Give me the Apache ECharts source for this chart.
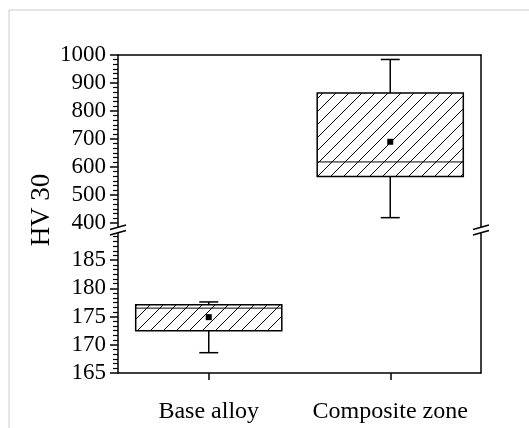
<!DOCTYPE html>
<html><head><meta charset="utf-8">
<script src="https://cdn.jsdelivr.net/npm/echarts@6/dist/echarts.min.js"></script>
<style>html,body{margin:0;padding:0;background:#fff}#c{width:529px;height:428px}</style>
</head><body><div id="c"></div>
<script>
// ---- data ----
const categories = ['Base alloy', 'Composite zone'];
const whiskerLow  = [168.6, 419];
const q1          = [172.5, 566];
const median      = [176.5, 618];
const q3          = [177.1, 864];
const whiskerHigh = [177.6, 984];
const mean        = [174.9, 690];
const upperTicks = [400, 500, 600, 700, 800, 900, 1000];
const lowerTicks = [165, 170, 175, 180, 185];
const upperRange = [382, 1000];
const lowerRange = [165, 190];

const rows = categories.map((c, i) => [i, whiskerLow[i], q1[i], median[i], q3[i], whiskerHigh[i], mean[i]]);

function minorValues(ticks, max, n) {
  const out = [];
  const step = (ticks[1] - ticks[0]) / n;
  for (let v = ticks[0]; v <= max + 1e-9; v += step) {
    const r = Math.round(v * 1000) / 1000;
    if (ticks.indexOf(r) < 0) out.push(r);
  }
  return out;
}
const upperMinor = minorValues(upperTicks, upperRange[1], 6);
const lowerMinor = minorValues(lowerTicks, lowerRange[1], 6);

// hatch pattern
const hatch = document.createElement('canvas');
const S = 13;
hatch.width = S; hatch.height = S;
(function () {
  const ctx = hatch.getContext('2d');
  ctx.strokeStyle = '#000';
  ctx.lineWidth = 1;
  ctx.beginPath();
  ctx.moveTo(0, S); ctx.lineTo(S, 0);
  ctx.moveTo(-2, 2); ctx.lineTo(2, -2);
  ctx.moveTo(S - 2, S + 2); ctx.lineTo(S + 2, S - 2);
  ctx.stroke();
})();

function renderBox(params, api) {
  const i = api.value(0);
  const wl = api.coord([i, api.value(1)]);
  const b1 = api.coord([i, api.value(2)]);
  const md = api.coord([i, api.value(3)]);
  const b3 = api.coord([i, api.value(4)]);
  const wh = api.coord([i, api.value(5)]);
  const mn = api.coord([i, api.value(6)]);
  const bw = api.size([1, 0])[0] * 0.805;
  const x = wl[0];
  const cap = 19;
  const ls = { stroke: '#000', lineWidth: 1.5 };
  return { type: 'group', children: [
    { type: 'line', shape: { x1: x, y1: b3[1], x2: x, y2: wh[1] }, style: ls },
    { type: 'line', shape: { x1: x - cap / 2, y1: wh[1], x2: x + cap / 2, y2: wh[1] }, style: ls },
    { type: 'line', shape: { x1: x, y1: b1[1], x2: x, y2: wl[1] }, style: ls },
    { type: 'line', shape: { x1: x - cap / 2, y1: wl[1], x2: x + cap / 2, y2: wl[1] }, style: ls },
    { type: 'rect', shape: { x: x - bw / 2, y: b3[1], width: bw, height: b1[1] - b3[1] },
      style: { fill: { image: hatch, repeat: 'repeat' }, stroke: '#000', lineWidth: 1.5 } },
    { type: 'line', shape: { x1: x - bw / 2, y1: md[1], x2: x + bw / 2, y2: md[1] }, style: { stroke: '#000', lineWidth: 1 } },
    { type: 'rect', shape: { x: mn[0] - 3, y: mn[1] - 3, width: 6, height: 6 }, style: { fill: '#000' } }
  ]};
}

const FONT = 'Liberation Serif';
const axisLine = { show: true, lineStyle: { color: '#000', width: 1.5 } };
const labelStyle = { color: '#000', fontFamily: FONT, fontSize: 23, formatter: v => String(v) };

function yAxes(grid, range, ticks, minor) {
  return [
    { type: 'value', gridIndex: grid, position: 'left', min: range[0], max: range[1],
      axisLine: axisLine, splitLine: { show: false },
      axisTick: { show: true, length: 8, customValues: ticks, lineStyle: { color: '#000', width: 1.5 } },
      axisLabel: Object.assign({ customValues: ticks, margin: 12 }, labelStyle) },
    { type: 'value', gridIndex: grid, position: 'left', min: range[0], max: range[1],
      axisLine: { show: false }, splitLine: { show: false }, axisLabel: { show: false },
      axisTick: { show: true, length: 5, customValues: minor, lineStyle: { color: '#000', width: 1.2 } } },
    { type: 'value', gridIndex: grid, position: 'right', min: range[0], max: range[1],
      axisLine: axisLine, splitLine: { show: false }, axisLabel: { show: false }, axisTick: { show: false } }
  ];
}

const chart = echarts.init(document.getElementById('c'), null, { renderer: 'canvas' });

function breakMark(x) {
  return [
    { type: 'polygon', z: 100, shape: { points: [[x - 8, 229.5], [x + 8, 225], [x + 8, 230.5], [x - 8, 235]] }, style: { fill: '#fff' } },
    { type: 'line', z: 101, shape: { x1: x - 8, y1: 229.5, x2: x + 8, y2: 225 }, style: { stroke: '#000', lineWidth: 1.5 } },
    { type: 'line', z: 101, shape: { x1: x - 8, y1: 235, x2: x + 8, y2: 230.5 }, style: { stroke: '#000', lineWidth: 1.5 } }
  ];
}

chart.setOption({
  animation: false,
  backgroundColor: '#fff',
  grid: [
    { left: 118, right: 48, top: 55, bottom: 200 },
    { left: 118, right: 48, top: 232, bottom: 55 }
  ],
  xAxis: [
    { type: 'category', gridIndex: 0, data: categories, position: 'top', boundaryGap: true,
      axisLine: axisLine, axisTick: { show: false }, axisLabel: { show: false }, splitLine: { show: false } },
    { type: 'category', gridIndex: 1, data: categories, position: 'bottom', boundaryGap: true,
      axisLine: axisLine, splitLine: { show: false },
      axisTick: { show: true, alignWithLabel: true, length: 7, lineStyle: { color: '#000', width: 1.5 } },
      axisLabel: { color: '#000', fontFamily: FONT, fontSize: 24, margin: 27, interval: 0, hideOverlap: false } }
  ],
  yAxis: yAxes(0, upperRange, upperTicks, upperMinor).concat(yAxes(1, lowerRange, lowerTicks, lowerMinor)),
  series: [
    { type: 'custom', xAxisIndex: 0, yAxisIndex: 0, renderItem: renderBox,
      encode: { x: 0, y: [1, 2, 3, 4, 5, 6] },
      data: rows.filter(r => r[1] >= upperRange[0]) },
    { type: 'custom', xAxisIndex: 1, yAxisIndex: 3, renderItem: renderBox,
      encode: { x: 0, y: [1, 2, 3, 4, 5, 6] },
      data: rows.filter(r => r[5] <= lowerRange[1]) }
  ],
  graphic: [
    { type: 'line', shape: { x1: 9, y1: 10, x2: 529, y2: 10 }, style: { stroke: '#cccccc', lineWidth: 1 } },
    { type: 'line', shape: { x1: 9, y1: 10, x2: 9, y2: 428 }, style: { stroke: '#cccccc', lineWidth: 1 } },
    { type: 'text', x: 42, y: 210, rotation: Math.PI / 2,
      style: { text: 'HV 30', font: '27px "Liberation Serif"', fill: '#000', textAlign: 'center', textVerticalAlign: 'middle' } }
  ].concat(breakMark(118), breakMark(481))
});
</script></body></html>
